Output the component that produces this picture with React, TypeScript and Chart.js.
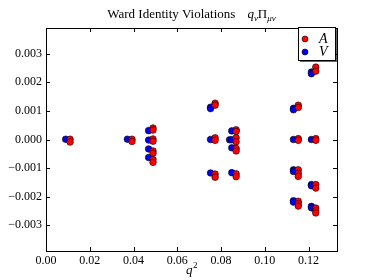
import React, { useEffect, useRef } from "react";
import { Chart, registerables } from "chart.js";

Chart.register(...registerables);

// ---- data ----
const titleText = "Ward Identity Violations";
const xTickValues = [0, 0.02, 0.04, 0.06, 0.08, 0.1, 0.12];
const yTickValues = [-0.003, -0.002, -0.001, 0, 0.001, 0.002, 0.003];

// V (vector) points: q^2 and violation
const vQ2 = [
  0.009,
  0.0372,
  0.0469, 0.0469, 0.0469, 0.0469,
  0.0752, 0.0752, 0.0752, 0.0752,
  0.0849, 0.0839, 0.0849, 0.0849, 0.0849,
  0.1131, 0.1131, 0.1131, 0.1131, 0.1131, 0.1131, 0.1131,
  0.1213, 0.1213, 0.1213, 0.1213, 0.1213, 0.1213, 0.1213,
];
const vViol = [
  0.00001,
  0.00001,
  0.00031, -0.00002, -0.00033, -0.00063,
  0.00113, 0.00108, 0.0, -0.00117,
  0.0003, -0.00001, -0.00001, -0.00029, -0.00116,
  0.00109, 0.00104, 0.0, -0.00106, -0.00112, -0.00214, -0.00219,
  0.00236, 0.0023, 0.0, -0.00158, -0.00162, -0.00234, -0.00239,
];

// A (axial) points: q^2 and violation
const aQ2 = [
  0.011, 0.011,
  0.0393, 0.0393,
  0.0489, 0.0489, 0.0489, 0.0489, 0.0489, 0.0489, 0.0489, 0.0489,
  0.0773, 0.0773, 0.0773, 0.0773, 0.0773, 0.0773,
  0.0869, 0.0869, 0.0869, 0.0869, 0.0869, 0.0869, 0.0869, 0.0869,
  0.1153, 0.1153, 0.1153, 0.1153, 0.1153, 0.1153, 0.1153, 0.1153, 0.1153, 0.1153,
  0.1233, 0.1233, 0.1233, 0.1233, 0.1233, 0.1233, 0.1233, 0.1233, 0.1233,
];
const aViol = [
  0.00001, -0.00009,
  0.00001, -0.00007,
  0.0004, 0.00033, 0.00002, -0.00006, -0.0004, -0.00048, -0.0007, -0.0008,
  0.00127, 0.0012, 0.00006, -0.00003, -0.00121, -0.00132,
  0.00034, 0.00028, 0.00006, -0.00008, -0.00031, -0.0004, -0.0012, -0.0013,
  0.0012, 0.00112, 0.00003, -0.00003, -0.00106, -0.00118, -0.00129, -0.00216, -0.00225, -0.00233,
  0.00253, 0.00239, 0.00003, -0.00003, -0.00158, -0.0017, -0.0024, -0.00249, -0.00257,
];

const FONT = "'Liberation Serif', 'DejaVu Serif', serif";

const decorPlugin = {
  id: "decor",
  afterDraw(chart: any) {
    const ctx: CanvasRenderingContext2D = chart.ctx;
    const { left, right, top, bottom } = chart.chartArea;
    const xs = chart.scales.x;
    const ys = chart.scales.y;
    ctx.save();
    // frame
    ctx.strokeStyle = "#000";
    ctx.lineWidth = 1;
    ctx.strokeRect(Math.round(left) + 0.5, Math.round(top) + 0.5, Math.round(right - left), Math.round(bottom - top));
    // inward ticks
    ctx.beginPath();
    xTickValues.forEach((v) => {
      const px = Math.round(xs.getPixelForValue(v)) + 0.5;
      ctx.moveTo(px, bottom);
      ctx.lineTo(px, bottom - 4);
      ctx.moveTo(px, top);
      ctx.lineTo(px, top + 4);
    });
    yTickValues.forEach((v) => {
      const py = Math.round(ys.getPixelForValue(v)) + 0.5;
      ctx.moveTo(left, py);
      ctx.lineTo(left + 4, py);
      ctx.moveTo(right, py);
      ctx.lineTo(right - 4, py);
    });
    ctx.stroke();

    // title
    ctx.fillStyle = "#000";
    ctx.textBaseline = "alphabetic";
    const base = 18;
    ctx.font = `13px ${FONT}`;
    const w1 = ctx.measureText(titleText).width;
    const pieces = [
      { t: "q", f: `italic 13px ${FONT}`, dy: 0 },
      { t: "\u03bd", f: `italic 9px ${FONT}`, dy: 2.5 },
      { t: "\u03a0", f: `13px ${FONT}`, dy: 0 },
      { t: "\u03bc\u03bd", f: `italic 9px ${FONT}`, dy: 2.5 },
    ];
    let wm = 0;
    const widths = pieces.map((p) => {
      ctx.font = p.f;
      const w = ctx.measureText(p.t).width;
      wm += w;
      return w;
    });
    const gap = 12;
    const total = w1 + gap + wm;
    let x0 = (left + right) / 2 - total / 2;
    ctx.font = `13px ${FONT}`;
    ctx.fillText(titleText, x0, base);
    x0 += w1 + gap;
    pieces.forEach((p, i) => {
      ctx.font = p.f;
      ctx.fillText(p.t, x0, base + p.dy);
      x0 += widths[i];
    });

    // x axis label q^2
    ctx.font = `italic 13px ${FONT}`;
    const qw = ctx.measureText("q").width;
    ctx.font = `9px ${FONT}`;
    const sw = ctx.measureText("2").width;
    const cx = (left + right) / 2 - (qw + sw) / 2;
    ctx.font = `italic 13px ${FONT}`;
    ctx.fillText("q", cx, 274);
    ctx.font = `9px ${FONT}`;
    ctx.fillText("2", cx + qw + 0.5, 268);

    // legend
    const lx = 298, ly = 27, lw = 37, lh = 33;
    ctx.fillStyle = "rgba(0,0,0,0.6)";
    ctx.fillRect(lx + 2, ly + 2, lw, lh);
    ctx.fillStyle = "#fff";
    ctx.fillRect(lx, ly, lw, lh);
    ctx.strokeStyle = "#000";
    ctx.lineWidth = 1;
    ctx.strokeRect(lx + 0.5, ly + 0.5, lw, lh);
    const entries = [
      { label: "A", color: "#ff0000", y: 39 },
      { label: "V", color: "#0000ff", y: 52 },
    ];
    entries.forEach((e) => {
      ctx.beginPath();
      ctx.arc(305, e.y, 3, 0, Math.PI * 2);
      ctx.fillStyle = e.color;
      ctx.fill();
      ctx.lineWidth = 0.6;
      ctx.strokeStyle = "#000";
      ctx.stroke();
      ctx.fillStyle = "#000";
      ctx.font = `italic 14px ${FONT}`;
      ctx.textBaseline = "middle";
      ctx.fillText(e.label, 319, e.y);
    });
    ctx.restore();
  },
};

export default function App() {
  const ref = useRef<HTMLCanvasElement>(null);
  useEffect(() => {
    if (!ref.current) return;
    const aData = aQ2.map((x, i) => ({ x, y: aViol[i] }));
    const vData = vQ2.map((x, i) => ({ x, y: vViol[i] }));
    const chart = new Chart(ref.current, {
      type: "scatter",
      data: {
        datasets: [
          {
            label: "A",
            data: aData,
            backgroundColor: "#ff0000",
            borderColor: "rgba(0,0,0,0.85)",
            borderWidth: 0.7,
            pointRadius: 3.3,
          },
          {
            label: "V",
            data: vData,
            backgroundColor: "#0000ff",
            borderColor: "rgba(0,0,0,0.85)",
            borderWidth: 0.7,
            pointRadius: 3.3,
          },
        ],
      },
      options: {
        animation: false,
        responsive: false,
        layout: { padding: { top: 28, right: 37, left: 0, bottom: 0 } },
        plugins: {
          legend: { display: false },
          tooltip: { enabled: false },
          title: { display: false },
        },
        scales: {
          x: {
            type: "linear",
            min: 0,
            max: 0.133,
            grid: { display: false, drawTicks: false },
            border: { display: false },
            afterBuildTicks: (s: any) => {
              s.ticks = xTickValues.map((value) => ({ value }));
            },
            afterFit: (s: any) => {
              s.height = 29;
            },
            ticks: {
              color: "#000",
              padding: 3,
              maxRotation: 0,
              font: { family: FONT, size: 12 },
              callback: (v: any) => Number(v).toFixed(2),
            },
          },
          y: {
            type: "linear",
            min: -0.0039,
            max: 0.0039,
            grid: { display: false, drawTicks: false },
            border: { display: false },
            afterBuildTicks: (s: any) => {
              s.ticks = yTickValues.map((value) => ({ value }));
            },
            afterFit: (s: any) => {
              s.width = 46;
            },
            ticks: {
              color: "#000",
              padding: 4,
              font: { family: FONT, size: 12 },
              callback: (v: any) => {
                const n = Number(v);
                if (Math.abs(n) < 1e-9) return "0.000";
                return (n < 0 ? "\u2212" : "") + Math.abs(n).toFixed(3);
              },
            },
          },
        },
      },
      plugins: [decorPlugin],
    } as any);
    return () => chart.destroy();
  }, []);
  return (
    <div style={{ position: "absolute", left: 0, top: 0, width: 374, height: 280, background: "#fff" }}>
      <canvas ref={ref} width={374} height={280} />
    </div>
  );
}
